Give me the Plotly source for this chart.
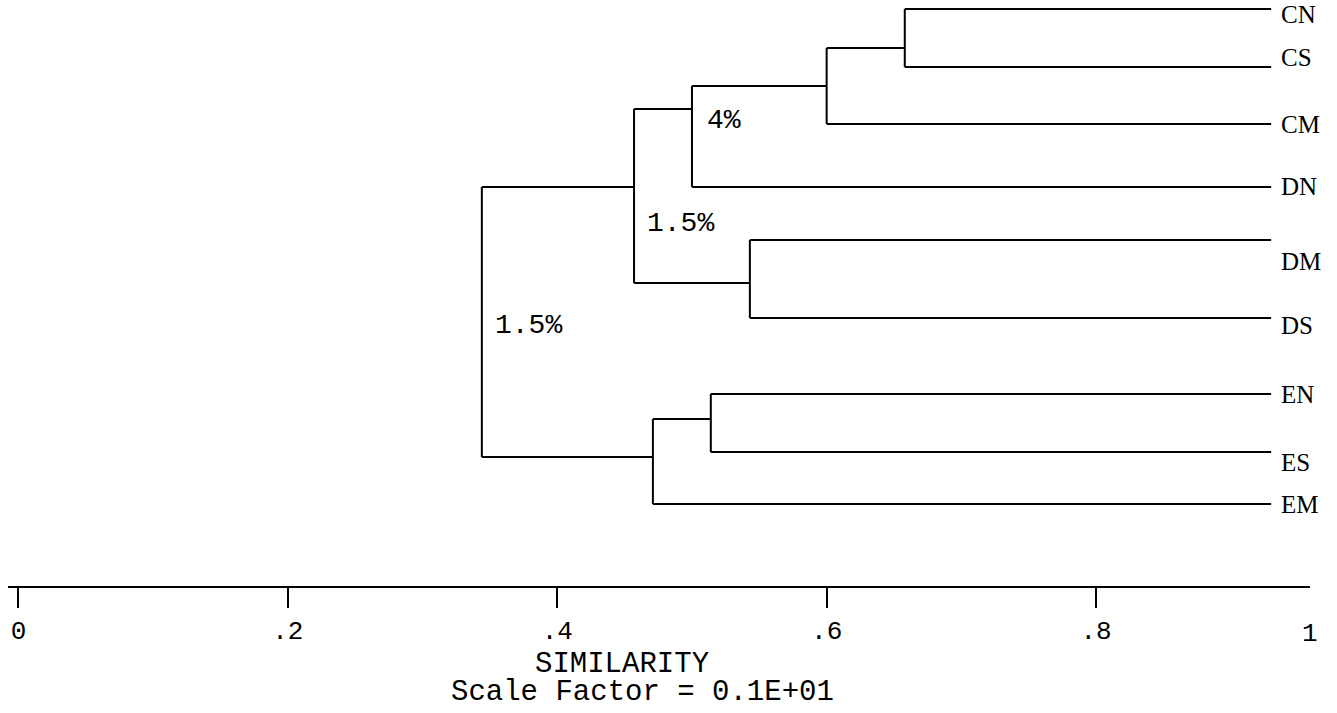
import plotly.graph_objects as go

# Leaf names, top to bottom, and their row positions (rows from the top of the plot)
leaves = ["CN", "CS", "CM", "DN", "DM", "DS", "EN", "ES", "EM"]
leaf_rows = [9, 67, 124, 187, 240, 318, 394, 452, 504]
# rows at which the leaf names are printed (the printout sets them a little off the branches)
label_rows = [14, 57, 124, 186, 261, 325, 394, 462, 504]
leaf_end = 0.93  # right end of the leaf branches on the similarity scale

# Clustering steps: (name, left child, right child, similarity, row where the parent branch attaches)
merges = [
    ("A", "CN", "CS", 0.658, 48),
    ("B", "A", "CM", 0.600, 86),
    ("C", "B", "DN", 0.500, 109),
    ("D", "DM", "DS", 0.543, 283),
    ("F", "C", "D", 0.457, 187),
    ("G", "EN", "ES", 0.514, 419),
    ("H", "G", "EM", 0.471, 457),
    ("R", "F", "H", 0.344, None),
]

# Percentage labels beside the branches: (text, similarity at left edge, row)
pct_labels = [("4%", 0.510, 120), ("1.5%", 0.465, 223), ("1.5%", 0.352, 325)]

tick_vals = [0, 0.2, 0.4, 0.6, 0.8]
tick_text = ["0", ".2", ".4", ".6", ".8"]

row = dict(zip(leaves, leaf_rows))
for name, a, b, s, r in merges:
    if r is not None:
        row[name] = r

parent_sim = {}
for name, a, b, s, r in merges:
    parent_sim[a] = s
    parent_sim[b] = s

xs, ys = [], []
# leaf branches
for lf in leaves:
    xs += [parent_sim[lf], leaf_end, None]
    ys += [row[lf], row[lf], None]
# internal nodes: vertical joining the children, horizontal to the parent
for name, a, b, s, r in merges:
    xs += [s, s, None]
    ys += [row[a], row[b], None]
    if name in parent_sim:
        xs += [parent_sim[name], s, None]
        ys += [row[name], row[name], None]

fig = go.Figure()
fig.add_trace(go.Scatter(x=xs, y=ys, mode="lines",
                         line=dict(color="black", width=2),
                         hoverinfo="skip", showlegend=False))

mono = "Liberation Mono"
serif = "Liberation Serif"
for lf, lr in zip(leaves, label_rows):
    fig.add_annotation(x=leaf_end, y=lr, text=lf, xref="x", yref="y",
                       xanchor="left", yanchor="middle", xshift=8, showarrow=False,
                       font=dict(family=serif, size=25, color="black"))

for txt, xv, yv in pct_labels:
    fig.add_annotation(x=xv, y=yv, text=txt, xref="x", yref="y",
                       xanchor="left", yanchor="middle", showarrow=False,
                       font=dict(family=mono, size=28, color="black"))

# baseline of the similarity axis
ax_left, ax_right = -0.0078, 0.9588
fig.add_shape(type="line", xref="x", yref="paper", x0=ax_left, x1=ax_right,
              y0=0, y1=0, line=dict(color="black", width=2))
fig.add_annotation(x=ax_right, y=0, xref="x", yref="paper", text="1",
                   xanchor="center", yanchor="top", yshift=-30, showarrow=False,
                   font=dict(family=mono, size=26, color="black"))
fig.add_annotation(x=0.448, y=0, xref="x", yref="paper", text="SIMILARITY",
                   xanchor="center", yanchor="middle", yshift=-77, showarrow=False,
                   font=dict(family=mono, size=29, color="black"))
fig.add_annotation(x=0.463, y=0, xref="x", yref="paper", text="Scale Factor = 0.1E+01",
                   xanchor="center", yanchor="middle", yshift=-105, showarrow=False,
                   font=dict(family=mono, size=29, color="black"))

fig.update_layout(
    width=1337, height=713,
    margin=dict(l=0, r=0, t=0, b=126),
    paper_bgcolor="white", plot_bgcolor="white",
    xaxis=dict(range=[-0.01373, 0.9789], tickvals=tick_vals, ticktext=tick_text,
               ticks="outside", ticklen=20, tickwidth=2, tickcolor="black",
               showgrid=False, zeroline=False, showline=False,
               tickfont=dict(family=mono, size=26, color="black"),
               fixedrange=True),
    yaxis=dict(range=[587, 0], visible=False, fixedrange=True),
)

fig.write_html("out.html")
